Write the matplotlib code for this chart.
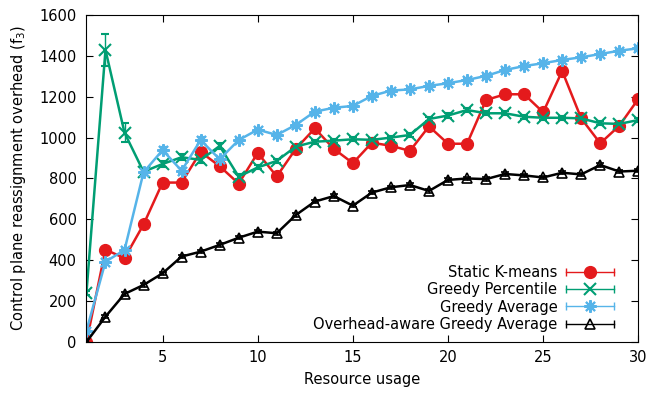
import numpy as np
import matplotlib
matplotlib.use('Agg')
import matplotlib.pyplot as plt
from matplotlib.legend_handler import HandlerBase
from matplotlib.lines import Line2D

x = list(range(1, 31))

kmeans = [0, 452, 410, 575, 780, 780, 930, 860, 775, 925,
          810, 945, 1045, 945, 875, 975, 960, 935, 1055, 970,
          970, 1184, 1212, 1212, 1124, 1326, 1094, 972, 1058, 1189]
kmeans_err = [0, 10, 12, 10, 10, 10, 12, 10, 10, 12,
              10, 10, 12, 10, 10, 10, 10, 10, 12, 10,
              10, 12, 10, 10, 12, 12, 10, 10, 10, 12]

percentile = [240, 1429, 1024, 833, 871, 904, 891, 959, 809, 854,
              886, 956, 980, 985, 992, 989, 1000, 1013, 1091, 1108,
              1135, 1119, 1119, 1102, 1097, 1097, 1094, 1070, 1067, 1086]
percentile_err = [10, 78, 46, 12, 15, 15, 15, 15, 12, 10,
                  10, 10, 10, 10, 10, 10, 10, 10, 12, 10,
                  10, 10, 10, 10, 10, 10, 10, 10, 10, 10]

average = [55, 393, 450, 830, 939, 838, 988, 894, 988, 1039,
           1013, 1062, 1127, 1146, 1155, 1204, 1230, 1236, 1253, 1266,
           1282, 1302, 1331, 1350, 1364, 1380, 1393, 1409, 1425, 1437]
average_err = [8, 12, 12, 15, 15, 15, 15, 12, 10, 10,
               10, 10, 10, 10, 10, 10, 10, 10, 10, 10,
               10, 10, 10, 10, 10, 10, 10, 10, 10, 10]

aware = [0, 124, 235, 279, 336, 418, 442, 475, 510, 540,
         532, 621, 687, 714, 667, 731, 757, 768, 739, 793,
         800, 797, 822, 815, 805, 828, 820, 866, 834, 838]
aware_err = [0, 8, 8, 8, 8, 8, 8, 8, 8, 8,
             8, 8, 8, 8, 8, 8, 8, 8, 8, 8,
             8, 8, 8, 8, 8, 8, 8, 8, 8, 8]


# gnuplot style key sample: horizontal bar with end caps and a marker in the middle
class ErrKey(HandlerBase):
    def __init__(self, color, marker, ms, mfc, mew):
        super().__init__()
        self.color = color
        self.marker = marker
        self.ms = ms
        self.mfc = mfc
        self.mew = mew

    def create_artists(self, legend, orig_handle, xdescent, ydescent, width, height, fontsize, trans):
        y = height / 2 - ydescent
        x0, x1 = -xdescent, -xdescent + width
        bar = Line2D([x0, x1], [y, y], color=self.color, lw=1)
        caps = Line2D([x0, x1], [y, y], color=self.color, lw=0, marker='|', ms=6, mew=1)
        mk = Line2D([(x0 + x1) / 2], [y], color=self.color, lw=0, marker=self.marker,
                    ms=self.ms, mfc=self.mfc, mew=self.mew)
        for a in (bar, caps, mk):
            a.set_transform(trans)
        return [bar, caps, mk]


fig = plt.figure(figsize=(6.5, 3.94), dpi=100)
ax = fig.add_axes([0.133, 0.132, 0.849, 0.830])

styles = [
    (kmeans, kmeans_err, '#e41a1c', 'o', 8.5, None, 1, 'Static K-means'),
    (percentile, percentile_err, '#009e73', 'x', 8, None, 1.5, 'Greedy Percentile'),
    (average, average_err, '#56b4e9', (8, 2, 0), 9, None, 1.5, 'Greedy Average'),
    (aware, aware_err, 'black', '^', 7.5, 'none', 1.2, 'Overhead-aware Greedy Average'),
]

handles = []
handler_map = {}
for y, err, c, m, ms, mfc, mew, lab in styles:
    kw = {}
    if mfc is not None:
        kw['mfc'] = mfc
    eb = ax.errorbar(x, y, yerr=err, color=c, lw=1.8, marker=m, ms=ms, mew=mew,
                     capsize=3, elinewidth=1, label=lab, **kw)
    handles.append(eb)
    handler_map[eb] = ErrKey(c, m, ms, 'none' if mfc == 'none' else c, mew)

fs = 10.5
ax.set_xlim(1, 30)
ax.set_ylim(0, 1600)
ax.set_xticks([5, 10, 15, 20, 25, 30])
ax.set_yticks(range(0, 1601, 200))
ax.tick_params(direction='in', top=True, right=True, labelsize=fs, length=5)
ax.tick_params(axis='x', pad=6)
ax.tick_params(axis='y', pad=7)
ax.set_xlabel('Resource usage', fontsize=fs, labelpad=5)
ax.set_ylabel('Control plane reassignment overhead (f$_3$)', fontsize=fs, labelpad=8)

ax.legend(handles, [s[-1] for s in styles], handler_map=handler_map,
          loc='lower right', markerfirst=False, frameon=False, fontsize=fs,
          handlelength=3.3, handletextpad=0.6, labelspacing=0.15,
          borderaxespad=0.3, bbox_to_anchor=(0.975, 0.0))

fig.savefig('out.png', dpi=100)
